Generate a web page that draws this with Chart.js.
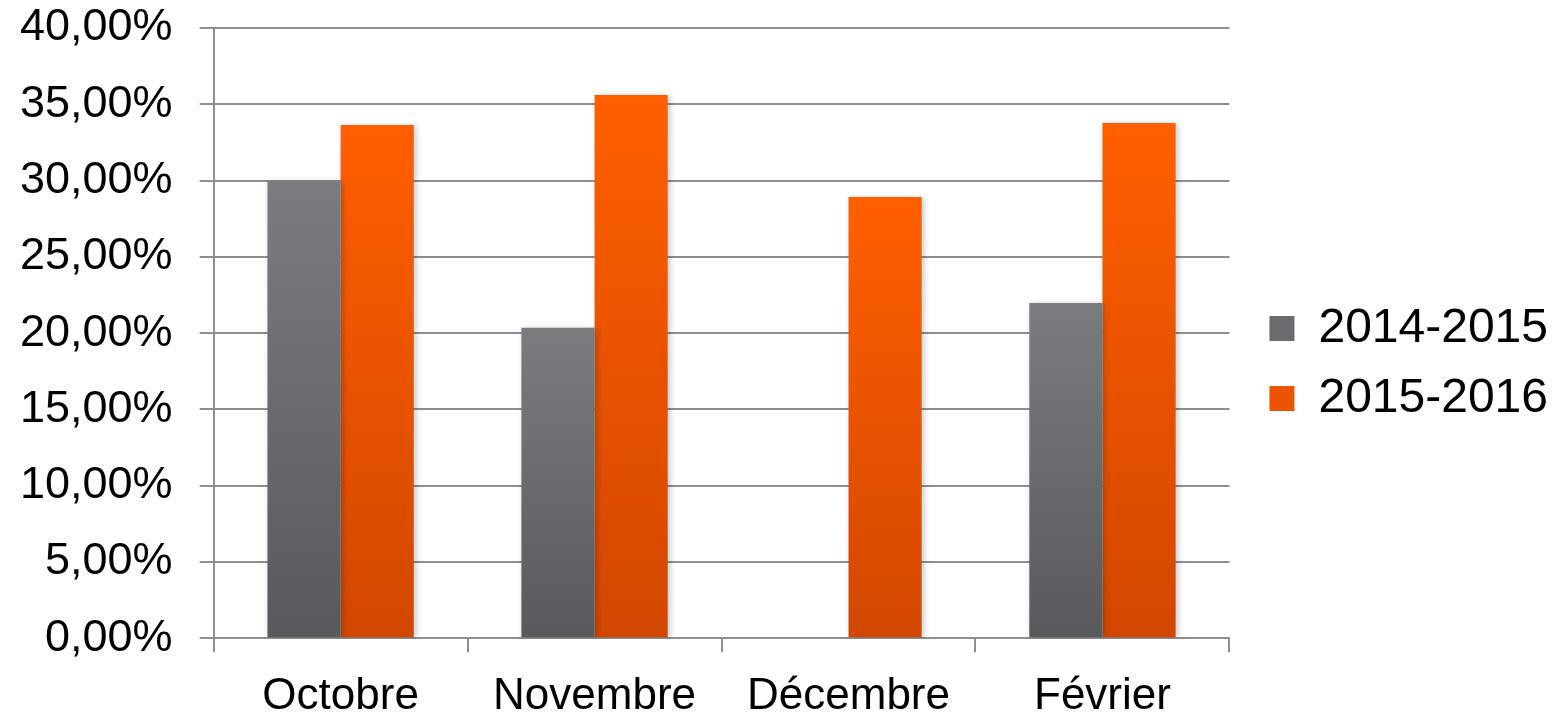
<!DOCTYPE html>
<html>
<head>
<meta charset="utf-8">
<script src="https://cdn.jsdelivr.net/npm/chart.js@4/dist/chart.umd.min.js"></script>
<style>
  html, body { margin: 0; padding: 0; background: #fff; }
  canvas { display: block; }
</style>
</head>
<body>
<canvas id="chart" width="1559" height="715"></canvas>
<script>
// Monthly rates, two school years
const months = ['Octobre', 'Novembre', 'Décembre', 'Février'];
const season1415 = [30.0, 20.35, null, 21.97];
const season1516 = [33.64, 35.61, 28.92, 33.77];
const yTicks = [0, 5, 10, 15, 20, 25, 30, 35, 40];

const FONT = '"Liberation Sans", Arial, sans-serif';
const GRID = '#8e8e8e';

// vertical gradient per bar, from its top down to the zero line
function barGradient(top, bottom) {
    return function (context) {
        const chart = context.chart;
        const area = chart.chartArea;
        const v = context.raw;
        if (!area || v == null) return top;
        const y = chart.scales.y;
        const g = chart.ctx.createLinearGradient(0, y.getPixelForValue(v), 0, y.getPixelForValue(0));
        g.addColorStop(0, top);
        g.addColorStop(1, bottom);
        return g;
    };
}

// soft shadow to the right of the bars
const barShadow = {
    id: 'barShadow',
    beforeDatasetsDraw(chart) {
        const ctx = chart.ctx;
        ctx.save();
        ctx.shadowColor = 'rgba(0,0,0,0.22)';
        ctx.shadowBlur = 6;
        ctx.shadowOffsetX = 2;
        ctx.shadowOffsetY = 1;
    },
    afterDatasetsDraw(chart) {
        chart.ctx.restore();
    }
};

// nudge the legend away from the plot and up a bit
const legendNudge = {
    id: 'legendNudge',
    afterLayout(chart) {
        const lg = chart.legend;
        if (!lg) return;
        lg.left += 18;
        lg.right += 18;
        lg.top -= 21;
        lg.bottom -= 21;
    }
};

new Chart(document.getElementById('chart'), {
    type: 'bar',
    data: {
        labels: months,
        datasets: [
            {
                label: '2014-2015',
                data: season1415,
                backgroundColor: barGradient('#7b7c80', '#58595d')
            },
            {
                label: '2015-2016',
                data: season1516,
                backgroundColor: barGradient('#ff5f00', '#d24700')
            }
        ]
    },
    options: {
        responsive: false,
        animation: false,
        categoryPercentage: 0.576,
        barPercentage: 1.0,
        layout: { padding: { top: 28, left: -7, right: 19, bottom: -26 } },
        scales: {
            x: {
                offset: true,
                border: { display: true, color: GRID, width: 2 },
                grid: {
                    offset: true,
                    drawOnChartArea: false,
                    drawTicks: true,
                    tickLength: 14,
                    color: GRID,
                    lineWidth: 2
                },
                ticks: {
                    color: '#000',
                    padding: 18,
                    font: { family: FONT, size: 44 }
                }
            },
            y: {
                min: 0,
                max: 40,
                afterBuildTicks(axis) {
                    axis.ticks = yTicks.map(v => ({ value: v }));
                },
                afterFit(axis) {
                    // let the end labels overhang the plot edges
                    axis.paddingTop = 0;
                    axis.paddingBottom = 0;
                },
                border: { display: true, color: GRID, width: 2 },
                grid: {
                    color: GRID,
                    lineWidth: 2,
                    tickLength: 14
                },
                ticks: {
                    color: '#000',
                    padding: 27,
                    font: { family: FONT, size: 45 },
                    callback: v => v.toFixed(2).replace('.', ',') + '%'
                }
            }
        },
        plugins: {
            legend: {
                position: 'right',
                align: 'center',
                labels: {
                    color: '#000',
                    boxWidth: 25,
                    boxHeight: 25,
                    padding: 22,
                    font: { family: FONT, size: 48 },
                    generateLabels(chart) {
                        const fills = ['#6a6b6f', '#ea5400'];
                        return chart.data.datasets.map((ds, i) => ({
                            text: ds.label,
                            fillStyle: fills[i],
                            strokeStyle: fills[i],
                            lineWidth: 0,
                            datasetIndex: i,
                            fontColor: '#000'
                        }));
                    }
                }
            },
            tooltip: { enabled: false }
        }
    },
    plugins: [barShadow, legendNudge]
});
</script>
</body>
</html>
